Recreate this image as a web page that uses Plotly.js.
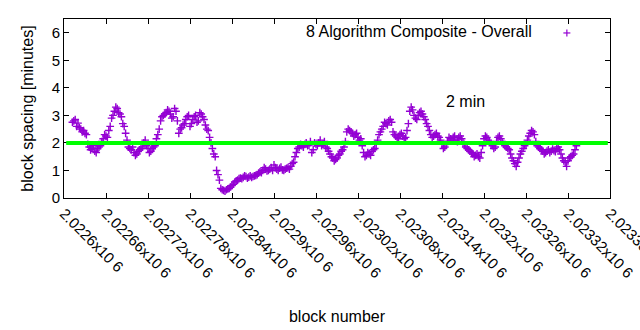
<!DOCTYPE html>
<html>
<head>
<meta charset="utf-8">
<script src="https://cdn.plot.ly/plotly-3.0.1.min.js"></script>
<style>html,body{margin:0;padding:0;background:#fff;}#chart{width:640px;height:330px;}</style>
</head>
<body>
<div id="chart"></div>
<script>
var seriesName = "8 Algorithm Composite - Overall";
var blocks = [
2022612,2022614,2022616,2022618,2022620,2022622,2022624,2022626,2022628,2022630,2022632,2022634,2022636,2022638,2022640,2022642,2022644,2022646,2022648,2022650,
2022652,2022654,2022656,2022658,2022660,2022662,2022664,2022666,2022668,2022670,2022672,2022674,2022676,2022678,2022680,2022682,2022684,2022686,2022688,2022690,
2022692,2022694,2022696,2022698,2022700,2022702,2022704,2022706,2022708,2022710,2022712,2022714,2022716,2022718,2022720,2022722,2022724,2022726,2022728,2022730,
2022732,2022734,2022736,2022738,2022740,2022742,2022744,2022746,2022748,2022750,2022752,2022754,2022756,2022758,2022760,2022762,2022764,2022766,2022768,2022770,
2022772,2022774,2022776,2022778,2022780,2022782,2022784,2022786,2022788,2022790,2022792,2022794,2022796,2022798,2022800,2022802,2022804,2022806,2022808,2022810,
2022812,2022814,2022816,2022818,2022820,2022822,2022824,2022826,2022828,2022830,2022832,2022834,2022836,2022838,2022840,2022842,2022844,2022846,2022848,2022850,
2022852,2022854,2022856,2022858,2022860,2022862,2022864,2022866,2022868,2022870,2022872,2022874,2022876,2022878,2022880,2022882,2022884,2022886,2022888,2022890,
2022892,2022894,2022896,2022898,2022900,2022902,2022904,2022906,2022908,2022910,2022912,2022914,2022916,2022918,2022920,2022922,2022924,2022926,2022928,2022930,
2022932,2022934,2022936,2022938,2022940,2022942,2022944,2022946,2022948,2022950,2022952,2022954,2022956,2022958,2022960,2022962,2022964,2022966,2022968,2022970,
2022972,2022974,2022976,2022978,2022980,2022982,2022984,2022986,2022988,2022990,2022992,2022994,2022996,2022998,2023000,2023002,2023004,2023006,2023008,2023010,
2023012,2023014,2023016,2023018,2023020,2023022,2023024,2023026,2023028,2023030,2023032,2023034,2023036,2023038,2023040,2023042,2023044,2023046,2023048,2023050,
2023052,2023054,2023056,2023058,2023060,2023062,2023064,2023066,2023068,2023070,2023072,2023074,2023076,2023078,2023080,2023082,2023084,2023086,2023088,2023090,
2023092,2023094,2023096,2023098,2023100,2023102,2023104,2023106,2023108,2023110,2023112,2023114,2023116,2023118,2023120,2023122,2023124,2023126,2023128,2023130,
2023132,2023134,2023136,2023138,2023140,2023142,2023144,2023146,2023148,2023150,2023152,2023154,2023156,2023158,2023160,2023162,2023164,2023166,2023168,2023170,
2023172,2023174,2023176,2023178,2023180,2023182,2023184,2023186,2023188,2023190,2023192,2023194,2023196,2023198,2023200,2023202,2023204,2023206,2023208,2023210,
2023212,2023214,2023216,2023218,2023220,2023222,2023224,2023226,2023228,2023230,2023232,2023234,2023236,2023238,2023240,2023242,2023244,2023246,2023248,2023250,
2023252,2023254,2023256,2023258,2023260,2023262,2023264,2023266,2023268,2023270,2023272,2023274,2023276,2023278,2023280,2023282,2023284,2023286,2023288,2023290,
2023292,2023294,2023296,2023298,2023300,2023302,2023304,2023306,2023308,2023310,2023312,2023314,2023316,2023318,2023320,2023322,2023324,2023326,2023328,2023330,
2023332];
var spacingMinutes = [
2.75,2.8,2.85,2.6,2.72,2.55,2.5,2.4,2.45,2.35,2.3,1.95,1.85,1.75,1.8,1.9,1.7,1.65,1.8,1.85,
1.9,2.05,2.15,2.3,2.25,2.2,2.45,2.6,2.9,3.0,3.15,3.3,3.25,3.1,3.05,2.95,2.7,2.6,2.35,2.1,
1.85,1.8,1.75,1.85,1.65,1.55,1.6,1.7,1.75,1.8,1.85,2.0,2.1,1.9,1.8,1.65,1.7,1.8,1.85,1.9,
2.15,2.3,2.5,2.8,2.95,3.0,3.05,3.1,3.2,3.15,3.05,2.9,2.95,3.25,3.15,2.8,2.35,2.5,2.55,2.65,
2.7,2.85,2.95,3.0,2.6,2.7,2.85,2.95,3.0,2.75,2.8,3.1,3.05,2.95,2.85,2.65,2.5,2.45,2.2,2.0,
1.8,1.6,1.5,1.0,0.85,0.65,0.35,0.3,0.28,0.25,0.3,0.33,0.35,0.4,0.45,0.5,0.58,0.62,0.65,0.7,
0.72,0.7,0.75,0.8,0.78,0.72,0.76,0.8,0.75,0.78,0.8,0.82,0.85,0.9,0.95,0.92,1.0,1.1,1.05,0.98,
1.0,1.05,1.1,1.0,1.2,1.1,1.05,1.0,1.08,1.12,1.02,1.0,1.05,1.08,1.1,1.05,1.15,1.25,1.3,1.5,
1.65,1.8,1.85,1.95,1.9,1.85,1.95,2.0,1.9,1.92,2.05,1.65,1.75,2.0,1.95,1.9,2.0,2.1,1.9,1.95,
2.05,1.85,1.8,1.7,1.6,1.5,1.45,1.35,1.4,1.45,1.55,1.6,1.7,1.75,1.85,2.05,2.4,2.5,2.45,2.4,
2.35,2.25,2.3,2.35,2.2,2.1,2.15,1.9,1.65,1.5,1.55,1.65,1.6,1.55,1.7,1.75,1.8,1.95,2.1,2.3,
2.4,2.5,2.6,2.75,2.7,2.65,2.8,2.85,2.75,2.4,2.3,2.25,2.2,2.15,2.3,2.35,2.25,2.15,2.2,2.45,
2.7,3.15,3.3,3.2,3.0,2.9,2.85,3.0,3.1,3.15,3.05,2.95,2.85,2.7,2.6,2.45,2.3,2.2,2.25,2.3,
2.35,2.25,2.2,2.1,1.95,1.8,1.85,1.95,2.05,2.2,2.15,2.1,2.2,2.25,2.1,2.05,2.2,2.25,2.15,2.0,
1.95,1.85,1.8,1.75,1.7,1.65,1.6,1.5,1.55,1.6,1.5,1.45,1.65,1.9,2.15,2.25,2.2,2.1,2.05,1.95,
1.9,1.8,1.85,2.05,2.2,2.25,2.15,2.05,1.95,1.9,1.85,1.8,1.75,1.6,1.45,1.35,1.25,1.15,1.3,1.45,
1.6,1.7,1.8,1.9,1.95,2.1,2.25,2.35,2.45,2.4,2.3,2.05,1.9,1.85,1.8,1.75,1.7,1.6,1.65,1.7,
1.75,1.65,1.7,1.78,1.72,1.68,1.8,1.85,1.75,1.6,1.45,1.35,1.3,1.15,1.35,1.45,1.5,1.55,1.6,1.75,
1.9];
var targetMinutes = 2;
var targetLabel = "2 min";
var targetLabelPos = [2023173, 3.5];
var xTickVals = [2022600,2022660,2022720,2022780,2022840,2022900,2022960,2023020,2023080,2023140,2023200,2023260,2023320,2023380];
var xTickText = ["2.0226x10 6","2.02266x10 6","2.02272x10 6","2.02278x10 6","2.02284x10 6","2.0229x10 6","2.02296x10 6","2.02302x10 6","2.02308x10 6","2.02314x10 6","2.0232x10 6","2.02326x10 6","2.02332x10 6","2.02338x10 6"];
var yTickVals = [0,1,2,3,4,5,6];

var FONT = "Liberation Sans, Arial, sans-serif";
var purple = "#9400d3";

var trace = {
  x: blocks, y: spacingMinutes, type: "scatter", mode: "markers",
  name: seriesName, showlegend: false, cliponaxis: true,
  marker: {symbol: "cross-thin", size: 5.5, color: purple, line: {color: purple, width: 1.4}}
};

var layout = {
  width: 640, height: 330,
  margin: {l: 64, r: 30, t: 19, b: 132},
  paper_bgcolor: "#fff", plot_bgcolor: "#fff",
  font: {family: FONT, size: 15, color: "#000"},
  showlegend: false,
  xaxis: {
    range: [2022600, 2023380], tickvals: xTickVals, ticktext: xTickText,
    tickangle: 45, ticks: "inside", ticklen: 5, tickcolor: "#000",
    ticklabeloverflow: "allow",
    showline: true, mirror: "ticks", linecolor: "#000", linewidth: 1,
    showgrid: false, zeroline: false, tickfont: {family: FONT, size: 15},
    title: {text: "block number", font: {family: FONT, size: 16}, standoff: 30}
  },
  yaxis: {
    range: [0, 6.5], tickvals: yTickVals, ticks: "inside", ticklen: 5, tickcolor: "#000",
    showline: true, mirror: "ticks", linecolor: "#000", linewidth: 1,
    showgrid: false, zeroline: false, tickfont: {family: FONT, size: 15},
    title: {text: "block spacing [minutes]", font: {family: FONT, size: 16}, standoff: 14}
  },
  shapes: [
    {type: "line", xref: "paper", yref: "y", x0: 0.004, x1: 0.996, y0: targetMinutes, y1: targetMinutes,
     line: {color: "#00ff00", width: 4}, layer: "above"},
    {type: "line", xref: "paper", yref: "paper", x0: 0.9146, x1: 0.9274, y0: 0.922, y1: 0.922,
     line: {color: purple, width: 1.2}},
    {type: "line", xref: "paper", yref: "paper", x0: 0.921, x1: 0.921, y0: 0.9024, y1: 0.9416,
     line: {color: purple, width: 1.2}}
  ],
  annotations: [
    {text: seriesName, xref: "paper", yref: "paper", x: 0.86, y: 0.93, xanchor: "right", yanchor: "middle",
     showarrow: false, font: {family: FONT, size: 16, color: "#000"}},
    {text: targetLabel, xref: "x", yref: "y", x: targetLabelPos[0], y: targetLabelPos[1], xanchor: "center", yanchor: "middle",
     showarrow: false, font: {family: FONT, size: 16, color: "#000"}}
  ]
};
Plotly.newPlot("chart", [trace], layout, {staticPlot: true, displayModeBar: false});
</script>
</body>
</html>
